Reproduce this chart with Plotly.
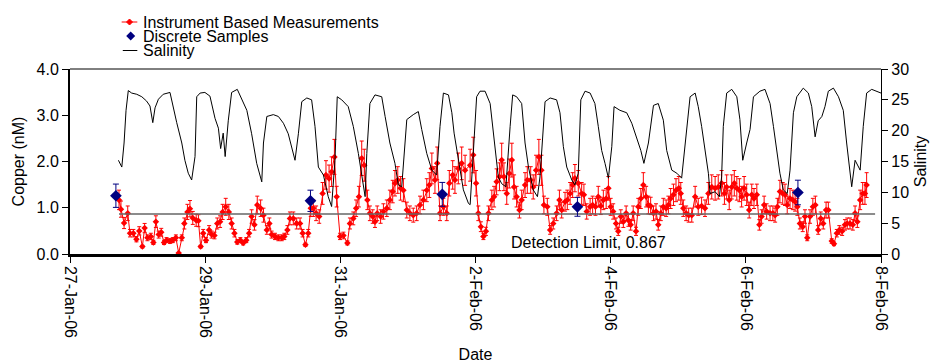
import pandas as pd
import plotly.graph_objects as go

# ---- data -------------------------------------------------------------
START = pd.Timestamp("2006-01-27 00:00")

# instrument based copper measurements (hours after START, nM)
cu_hours = [
    17.4, 18.1, 19.2, 20.5, 21.3, 22.5, 23.6, 24.6, 25.7, 26.5,
    27.5, 28.7, 29.6, 30.5, 31.5, 32.4, 33.4, 34.3, 35.5, 36.5,
    37.6, 38.6, 39.7, 40.6, 41.7, 42.6, 43.6, 44.8, 45.6, 46.4,
    47.3, 48.3, 49.4, 50.3, 51.3, 52.3, 53.3, 54.2, 55.3, 56.4,
    57.4, 58.4, 59.4, 60.5, 61.5, 62.6, 63.6, 64.5, 65.5, 66.5,
    67.7, 68.7, 69.9, 70.8, 71.6, 72.8, 74.0, 75.2, 76.1, 77.2,
    78.1, 79.3, 80.5, 81.7, 82.6, 83.6, 84.6, 85.5, 86.4, 87.4,
    88.5, 89.7, 90.9, 92.0, 92.9, 93.9, 94.7, 95.9, 97.1, 98.5,
    99.4, 100.6, 101.6, 102.6, 103.6, 104.5, 105.6, 106.5, 107.5, 108.3,
    109.1, 110.3, 111.3, 112.5, 113.6, 114.6, 115.4, 116.4, 117.4, 118.4,
    119.6, 120.7, 121.9, 123.1, 124.3, 125.5, 126.7, 127.6, 128.5, 129.6,
    130.4, 131.4, 132.6, 133.8, 134.7, 135.9, 136.7, 137.9, 139.1, 140.3,
    142.1, 143.2, 144.2, 145.0, 145.9, 146.8, 147.7, 148.6, 149.8, 150.6,
    151.5, 152.5, 153.3, 154.1, 155.1, 156.0, 156.9, 157.7, 158.6, 159.6,
    160.4, 161.6, 162.4, 163.6, 164.5, 165.5, 166.5, 167.4, 168.3, 169.5,
    170.5, 171.6, 172.8, 173.8, 174.6, 175.8, 176.6, 177.6, 178.5, 179.3,
    180.5, 181.7, 182.5, 183.5, 184.7, 185.6, 186.6, 187.6, 188.5, 189.4,
    190.4, 191.2, 192.0, 192.9, 193.9, 194.7, 195.6, 196.5, 197.5, 198.3,
    199.1, 200.0, 201.0, 201.8, 202.7, 203.6, 204.6, 205.4, 206.2, 207.2,
    208.1, 208.9, 209.8, 210.7, 211.7, 212.5, 213.3, 214.3, 215.2, 216.2,
    216.9, 217.8, 218.8, 219.7, 220.8,
    222.0, 223.1, 224.3, 225.5, 226.7, 227.9, 229.1, 230.2, 231.4, 232.4,
    233.2, 234.1, 235.0, 235.9, 236.8, 237.7, 238.5, 239.4, 240.3, 241.2,
    242.1, 242.9, 243.9, 244.8, 245.6, 246.5, 247.4, 248.6, 249.6, 250.4,
    251.2, 252.1, 253.1, 253.9, 254.7, 255.7, 256.7, 257.5, 258.3, 259.2,
    260.2, 261.0, 261.8, 262.8, 263.8, 264.7, 265.7, 266.6, 267.5, 268.5,
    269.3, 270.5, 271.3, 272.3, 273.2, 274.2, 275.2, 276.0, 277.0, 278.0,
    278.8, 279.6, 280.6, 281.5, 282.3, 282.9,
]
cu_values = [
    1.17, 0.97, 0.67, 0.88, 0.45, 0.45, 0.32, 0.50, 0.16, 0.56,
    0.35, 0.38, 0.25, 0.70, 0.42, 0.47, 0.25, 0.30, 0.28, 0.30,
    0.35, 0.02, 0.35, 0.66, 0.91, 0.98, 0.78, 0.73, 0.72, 0.16,
    0.45, 0.30, 0.52, 0.42, 0.40, 0.66, 0.70, 0.91, 1.02, 0.91,
    0.66, 0.45, 0.26, 0.30, 0.24, 0.30, 0.45, 0.81, 0.63, 1.06,
    0.99, 0.84, 0.52, 0.66, 0.42, 0.38, 0.35, 0.35, 0.38, 0.52,
    0.77, 0.77, 0.66, 0.66, 0.45, 0.20, 0.45, 0.99, 0.99, 0.88,
    0.81, 1.31, 1.71, 1.63, 1.78, 2.10, 1.24, 0.38, 0.40, 0.24,
    0.66, 0.77, 0.99, 1.24, 2.07, 1.92, 1.17, 0.88, 0.81, 0.70,
    0.88, 0.81, 0.92, 0.99, 1.17, 1.35, 1.53, 1.60, 1.42, 1.38,
    0.95, 0.88, 0.84, 0.88, 1.06, 1.17, 1.38, 1.49, 1.85, 1.60,
    1.96, 0.88, 1.02, 0.88, 1.53, 1.71, 1.60, 1.85, 1.96, 1.81,
    1.92, 2.14, 1.53, 0.88, 0.59, 0.38, 0.49, 0.88, 1.17, 1.24,
    1.56, 1.67, 2.03, 1.67, 1.31, 1.74, 2.03, 1.45, 1.24, 0.95,
    1.17, 1.49, 1.60, 1.60, 1.45, 1.81, 2.10, 1.81, 1.06, 1.02,
    0.52, 0.66, 0.88, 1.17, 0.95, 1.13, 1.17, 1.31, 1.49, 1.64,
    1.53, 1.31, 1.28, 0.92, 1.02, 1.06, 1.02, 1.24, 1.04, 1.17,
    1.20, 1.42, 1.02, 0.92, 0.66, 0.49, 0.81, 0.70, 0.88, 0.73,
    0.63, 0.88, 0.49, 1.02, 1.20, 1.49, 1.24, 1.06, 1.04, 0.88,
    0.92, 0.63, 0.88, 1.02, 0.99, 1.06, 1.20, 1.28, 1.38, 1.42,
    1.31, 0.99, 0.88, 0.84, 0.84,
    1.24, 1.02, 1.04, 0.99, 1.31, 1.45, 1.42, 1.45, 1.53, 1.31,
    1.45, 1.17, 1.45, 1.53, 1.42, 1.38, 1.24, 1.42, 1.28, 0.95,
    1.28, 1.20, 1.28, 0.63, 0.81, 1.06, 0.92, 0.88, 0.88, 0.84,
    1.02, 1.35, 1.31, 1.28, 1.06, 1.20, 1.17, 1.13, 1.02, 0.66,
    0.59, 0.81, 0.35, 0.81, 1.02, 1.06, 0.52, 0.77, 0.66, 0.95,
    0.95, 0.28, 0.22, 0.45, 0.52, 0.49, 0.63, 0.66, 0.66, 0.63,
    0.88, 0.70, 1.17, 1.31, 1.31, 1.49,
]
CU_ERROR_PCT = 18

# discrete bottle samples
disc_hours = [16.3, 85.4, 132.2, 180.2, 258.5]
disc_values = [1.26, 1.15, 1.29, 1.02, 1.33]
DISC_ERROR_PCT = 20

# salinity record (hours after START, salinity)
sal_hours = [
    17.2, 18.4, 19.2, 19.9, 20.7, 21.9, 23.7, 25.5, 27.2, 28.4,
    29.4, 30.2, 31.4, 33.1, 35.5, 36.7, 37.9, 39.7, 40.8, 42.0,
    43.2, 44.4, 45.0, 46.2, 47.9, 49.7, 51.5, 52.7, 53.5, 54.4,
    55.1, 56.2, 57.4, 59.4,
    61.0, 62.8, 64.5, 66.3, 68.1, 68.7, 69.9, 72.2, 74.0, 75.8,
    77.5, 78.7, 79.9, 81.1, 82.3, 84.1, 85.8, 87.0, 88.2, 90.0,
    91.7, 92.9, 94.1, 94.9, 96.5, 98.8, 100.6, 102.4, 103.6, 104.8,
    105.4, 106.5, 108.3, 110.7, 111.9, 113.6, 115.4, 116.6, 117.8, 118.6,
    119.6, 121.9, 123.7, 124.9, 126.7, 128.5, 130.2, 131.4, 132.6, 134.4,
    135.6, 136.4, 137.9, 139.7, 141.5,
    142.1, 143.2, 144.4, 145.6, 147.4, 149.2, 150.9, 152.1, 153.3, 154.8,
    156.3, 157.2, 158.6, 160.4, 161.6, 162.8, 164.5, 166.0, 166.9, 167.9,
    168.7, 170.5, 172.8, 174.0, 175.2, 176.4, 178.2, 179.3, 180.5, 181.4,
    182.9, 184.7, 186.4, 187.6, 188.8, 190.0, 191.2, 192.4, 193.2, 195.3,
    197.7, 199.5, 201.3, 202.7, 203.8, 205.4, 207.2, 208.9, 210.7, 211.9,
    213.7, 215.5, 217.2, 218.4, 220.2, 222.0,
    223.1, 224.3, 225.5, 226.7, 227.3, 229.1, 230.6, 231.4, 232.0, 233.2,
    235.0, 236.8, 237.9, 238.9, 240.3, 241.5, 242.7, 245.0, 246.8, 248.6,
    249.8, 251.0, 252.1, 253.3, 254.7, 255.7, 256.9, 258.1, 260.4, 262.2,
    263.4, 264.6, 265.7, 267.0, 268.1, 269.3, 271.1, 272.9, 274.6, 275.8,
    277.0, 277.6, 278.8, 280.6, 281.7, 282.9, 284.7, 286.5, 288.0,
]
sal_values = [
    15.2, 14.1, 18.0, 23.3, 26.5, 26.1, 25.9, 25.5, 24.8, 24.0,
    21.3, 23.7, 25.1, 25.9, 26.2, 24.0, 21.3, 18.0, 15.2, 13.1,
    12.0, 15.8, 25.5, 26.1, 26.2, 25.6, 22.0, 20.4, 17.1, 19.6,
    15.8, 21.6, 26.2, 26.7,
    25.0, 23.3, 19.5, 14.7, 11.7, 18.0, 22.3, 22.6, 22.3, 21.2,
    19.5, 17.4, 15.2, 19.5, 24.7, 25.3, 25.0, 20.7, 14.1, 12.8,
    9.3, 7.7, 15.2, 25.5, 25.0, 23.9, 20.7, 16.3, 12.5, 9.3,
    16.3, 24.4, 25.8, 25.5, 22.3, 18.0, 14.7, 11.2, 10.9, 15.2,
    21.8, 22.6, 23.1, 20.2, 16.3, 13.6, 12.8, 20.7, 26.1, 25.8,
    22.9, 19.6, 15.5, 10.4, 8.2,
    8.0, 16.3, 25.5, 26.4, 26.4, 24.4, 18.0, 12.5, 11.4, 10.9,
    20.7, 25.8, 25.5, 24.4, 18.0, 14.1, 10.4, 9.3, 12.5, 20.2,
    24.7, 25.3, 25.0, 22.9, 17.4, 14.1, 12.0, 11.2, 13.1, 25.0,
    26.4, 26.1, 24.4, 20.7, 16.8, 14.7, 12.3, 17.4, 23.9, 23.3,
    22.9, 21.2, 18.8, 16.8, 14.7, 18.0, 24.1, 24.4, 21.7, 16.8,
    13.6, 13.1, 12.3, 17.4, 25.5, 26.1,
    23.9, 20.7, 16.8, 13.1, 9.8, 10.1, 9.3, 12.5, 20.7, 26.1,
    26.7, 25.5, 21.8, 15.2, 18.0, 20.2, 25.5, 26.4, 26.7, 24.4,
    20.7, 16.3, 13.1, 10.4, 9.8, 13.6, 22.9, 25.5, 26.9, 26.1,
    23.9, 19.0, 21.6, 22.3, 23.9, 26.4, 26.9, 25.5, 23.3, 18.0,
    13.6, 10.9, 15.2, 13.6, 20.7, 26.1, 26.7, 26.4, 26.1,
]

DETECTION_LIMIT = 0.867
dl_hours = [17.4, 285.9]

tick_dates = ["2006-01-27", "2006-01-29", "2006-01-31", "2006-02-02",
              "2006-02-04", "2006-02-06", "2006-02-08"]

legend_labels = ["Instrument Based Measurements", "Discrete Samples", "Salinity"]


def at(hours):
    return START + pd.to_timedelta(hours, unit="h")


FONT = "Liberation Sans, Arial, sans-serif"
RED = "#FF0000"
NAVY = "#000080"

fig = go.Figure()

fig.add_trace(go.Scatter(
    x=at(cu_hours), y=cu_values, mode="lines+markers",
    line=dict(color=RED, width=1),
    marker=dict(symbol="diamond", size=5, color=RED),
    error_y=dict(type="percent", value=CU_ERROR_PCT, color=RED,
                 thickness=1, width=2),
    showlegend=False,
))

fig.add_trace(go.Scatter(
    x=at(dl_hours), y=[DETECTION_LIMIT] * len(dl_hours), mode="lines",
    line=dict(color="#666666", width=1.5), showlegend=False,
))

fig.add_trace(go.Scatter(
    x=at(disc_hours), y=disc_values, mode="markers",
    marker=dict(symbol="diamond", size=9, color=NAVY),
    error_y=dict(type="percent", value=DISC_ERROR_PCT, color=NAVY,
                 thickness=1, width=3),
    showlegend=False,
))

fig.add_trace(go.Scatter(
    x=at(sal_hours), y=sal_values, mode="lines", yaxis="y2",
    line=dict(color="black", width=1), showlegend=False,
))

# hand-built legend above the plot area
leg_y = [1.254, 1.178, 1.100]
shapes = [
    dict(type="line", xref="paper", yref="paper", x0=0, x1=1, y0=1, y1=1,
         line=dict(color="black", width=1)),
    dict(type="line", xref="paper", yref="paper", x0=0.0637, x1=0.0830,
         y0=leg_y[0], y1=leg_y[0], line=dict(color=RED, width=1)),
    dict(type="path", xref="paper", yref="paper", xsizemode="pixel",
         ysizemode="pixel", xanchor=0.0734, yanchor=leg_y[0],
         path="M0,3 L3,0 L0,-3 L-3,0 Z", fillcolor=RED,
         line=dict(color=RED, width=1)),
    dict(type="path", xref="paper", yref="paper", xsizemode="pixel",
         ysizemode="pixel", xanchor=0.0748, yanchor=leg_y[1],
         path="M0,4.5 L4.5,0 L0,-4.5 L-4.5,0 Z", fillcolor=NAVY,
         line=dict(color=NAVY, width=0)),
    dict(type="line", xref="paper", yref="paper", x0=0.0651, x1=0.0830,
         y0=leg_y[2], y1=leg_y[2], line=dict(color="black", width=1)),
]
annotations = [
    dict(text=lab, xref="paper", yref="paper", x=0.0875, y=yy,
         xanchor="left", yanchor="middle", showarrow=False,
         font=dict(size=16, color="black", family=FONT))
    for lab, yy in zip(legend_labels, leg_y)
]
annotations.append(dict(
    text=f"Detection Limit, {DETECTION_LIMIT}", xref="x", yref="y",
    x=at(184.0), y=0.24, xanchor="center", yanchor="middle",
    showarrow=False, font=dict(size=16, color="black", family=FONT),
))

axis_font = dict(size=16, color="black", family=FONT)

fig.update_layout(
    width=936, height=363,
    margin=dict(l=70, r=55, t=69, b=109),
    paper_bgcolor="white", plot_bgcolor="white",
    font=dict(family=FONT, size=16, color="black"),
    showlegend=False,
    shapes=shapes, annotations=annotations,
    xaxis=dict(
        type="date", range=[START, at(288)], automargin=False,
        tickvals=tick_dates, tickformat="%-d-%b-%y", tickangle=90,
        ticks="outside", ticklen=6, tickcolor="black", tickfont=axis_font,
        showline=True, linecolor="black", linewidth=2.5,
        showgrid=False, zeroline=False,
        title=dict(text="Date", font=axis_font, standoff=12),
    ),
    yaxis=dict(
        range=[0, 4], dtick=1, tickformat=".1f", automargin=False,
        ticks="outside", ticklen=6, tickcolor="black", tickfont=axis_font,
        showline=True, linecolor="black", linewidth=2,
        showgrid=False, zeroline=False,
        title=dict(text="Copper (nM)", font=axis_font, standoff=8),
    ),
    yaxis2=dict(
        overlaying="y", side="right", range=[0, 30], dtick=5,
        automargin=False,
        ticks="outside", ticklen=6, tickcolor="black", tickfont=axis_font,
        showline=True, linecolor="black", linewidth=1.3,
        showgrid=False, zeroline=False,
        title=dict(text="Salinity", font=axis_font, standoff=6),
    ),
)

fig.write_html("out.html")
